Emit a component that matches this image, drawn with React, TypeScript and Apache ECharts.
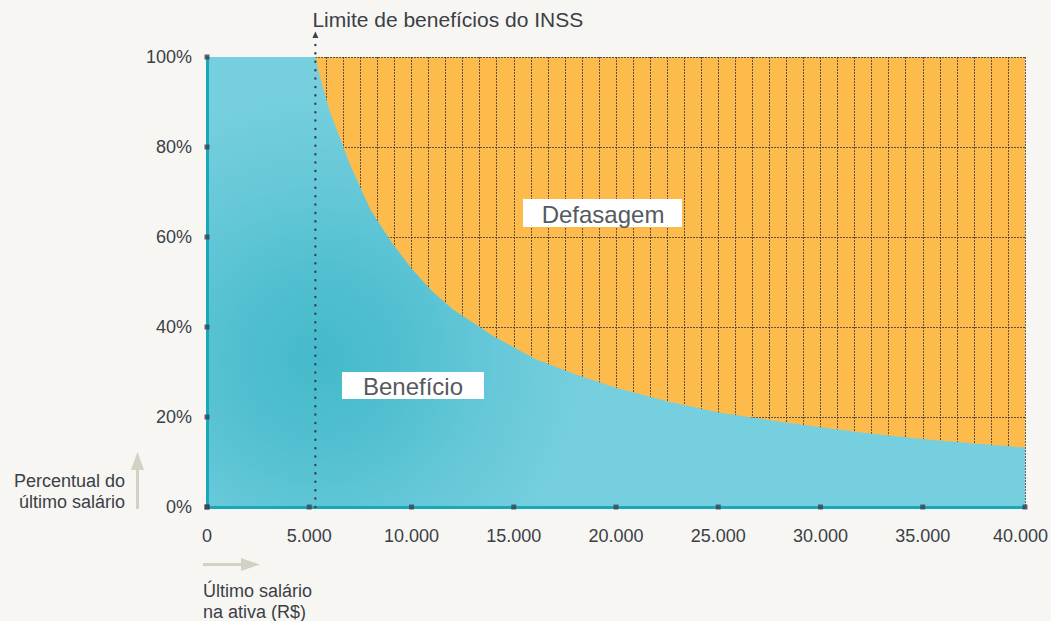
import React, { useEffect, useRef } from 'react';
import * as echarts from 'echarts';

// Data
const salaries = [0, 5300, 5500, 6000, 6500, 7000, 7500, 8000, 9000, 10000, 11000, 12000, 13000, 14000, 16000, 18000, 20000, 22500, 25000, 27500, 30000, 32500, 35000, 37500, 40000];
const benefitPct = [100, 100, 96, 88, 82, 76, 71, 66, 59, 53, 48, 44, 41, 38, 33, 29.5, 26.5, 23.5, 21, 19.3, 17.7, 16.3, 15.1, 14.1, 13.2];
const inssLimit = 5300;
const xTicks = [0, 5000, 10000, 15000, 20000, 25000, 30000, 35000, 40000];
const yTicks = [0, 20, 40, 60, 80, 100];

const FONT = '"Liberation Sans", Arial, Helvetica, sans-serif';
const TEXT = '#3b4046';
const GRIDLINE = { color: 'rgba(55,55,65,0.8)', width: 1, type: [2, 1] as any };

const fmtThousands = (v: number) => String(v).replace(/\B(?=(\d{3})+(?!\d))/g, '.');
const xMax = xTicks[xTicks.length - 1];

export default function App() {
  const ref = useRef<HTMLDivElement>(null);
  useEffect(() => {
    document.body.style.margin = '0';
    document.body.style.background = '#F7F6F3';
    const chart = echarts.init(ref.current!, undefined, { renderer: 'svg' });
    const option: any = {
      animation: false,
      backgroundColor: '#F7F6F3',
      textStyle: { fontFamily: FONT },
      grid: {
        left: 207, right: 26, top: 57, bottom: 114,
        outerBoundsMode: 'none', containLabel: false,
        show: true, backgroundColor: '#FDBB4C', borderWidth: 0,
      },
      xAxis: [
        {
          type: 'value', min: 0, max: xMax, interval: 5000,
          axisLine: { show: false }, axisTick: { show: false }, axisLabel: { show: false },
          splitLine: { show: true, lineStyle: GRIDLINE },
          minorTick: { show: false, splitNumber: 6 },
          minorSplitLine: { show: true, lineStyle: GRIDLINE },
        },
        {
          type: 'value', min: 0, max: xMax, interval: 5000, position: 'bottom', z: 10,
          axisLine: { show: true, onZero: false, lineStyle: { color: '#17A8B9', width: 3 } },
          axisTick: { show: false },
          splitLine: { show: false },
          axisLabel: {
            show: true, margin: 20, fontSize: 18, color: TEXT, fontFamily: FONT,
            formatter: (v: number) => (v === xMax ? `{last|${fmtThousands(v)}}` : fmtThousands(v)),
            rich: {
              last: { fontSize: 18, color: TEXT, fontFamily: FONT, padding: [0, 9, 0, 0] },
            },
          },
        },
      ],
      yAxis: [
        {
          type: 'value', min: 0, max: 100, interval: 20,
          axisLine: { show: false }, axisTick: { show: false }, axisLabel: { show: false },
          splitLine: { show: true, lineStyle: GRIDLINE },
        },
        {
          type: 'value', min: 0, max: 100, interval: 20, position: 'left', z: 10,
          axisLine: { show: true, onZero: false, lineStyle: { color: '#17A8B9', width: 3 } },
          axisTick: { show: false },
          splitLine: { show: false },
          axisLabel: {
            show: true, margin: 15, fontSize: 18, color: TEXT, fontFamily: FONT,
            formatter: (v: number) => `${v}%`,
          },
        },
      ],
      series: [
        {
          id: 'benefit',
          type: 'line', xAxisIndex: 0, yAxisIndex: 0, z: 2,
          data: salaries.map((s, i) => [s, benefitPct[i]]),
          showSymbol: false, symbol: 'none',
          lineStyle: { width: 0 },
          areaStyle: { opacity: 1, color: '#6ECADB' },
          silent: true,
        },
        {
          type: 'scatter', xAxisIndex: 0, yAxisIndex: 0, z: 20, clip: false,
          symbol: 'rect', symbolSize: 5,
          itemStyle: { color: '#3B4250' },
          data: xTicks.map((v) => [v, 0]),
          silent: true,
        },
        {
          type: 'scatter', xAxisIndex: 0, yAxisIndex: 0, z: 20, clip: false,
          symbol: 'rect', symbolSize: 5,
          itemStyle: { color: '#3B4250' },
          data: yTicks.map((v) => [0, v]),
          silent: true,
        },
      ],
    };
    chart.setOption(option);

    const [lx, y0] = chart.convertToPixel({ xAxisIndex: 0, yAxisIndex: 0 }, [inssLimit, 0]) as number[];
    const [, y100] = chart.convertToPixel({ xAxisIndex: 0, yAxisIndex: 0 }, [inssLimit, 100]) as number[];
    const [gx, gy] = chart.convertToPixel({ xAxisIndex: 0, yAxisIndex: 0 }, [5500, 33]) as number[];
    const arrowC = '#D5D0C5';
    chart.setOption({
      series: [
        {
          id: 'benefit',
          areaStyle: {
            opacity: 1,
            color: {
              type: 'radial', global: true, x: gx, y: gy, r: 270,
              colorStops: [
                { offset: 0, color: '#45BACA' },
                { offset: 0.3, color: '#50BFCF' },
                { offset: 0.65, color: '#66C8D8' },
                { offset: 1, color: '#76CFDF' },
              ],
            },
          },
        },
      ],
      graphic: [
        {
          type: 'line', z: 50, silent: true,
          shape: { x1: lx, y1: y0, x2: lx, y2: y100 - 17 },
          style: { stroke: '#3B4250', lineWidth: 2.4, lineDash: [0.1, 8.3], lineCap: 'round' },
        },
        {
          type: 'polygon', z: 50, silent: true,
          shape: { points: [[lx - 3, y100 - 19], [lx + 3, y100 - 19], [lx, y100 - 25.5]] },
          style: { fill: '#3B4250' },
        },
        {
          type: 'text', z: 50, silent: true, x: lx - 3, y: y100 - 38,
          style: { text: 'Limite de benefícios do INSS', font: `21px ${FONT}`, fill: TEXT, textAlign: 'left', textVerticalAlign: 'middle' },
        },
        // Benefício box
        { type: 'rect', z: 50, silent: true, shape: { x: 342, y: 372, width: 142, height: 27 }, style: { fill: '#FFFFFF' } },
        {
          type: 'text', z: 51, silent: true, x: 413, y: 386,
          style: { text: 'Benefício', font: `24px ${FONT}`, fill: '#555a60', textAlign: 'center', textVerticalAlign: 'middle' },
        },
        // Defasagem box
        { type: 'rect', z: 50, silent: true, shape: { x: 523, y: 199, width: 159, height: 28 }, style: { fill: '#FFFFFF' } },
        {
          type: 'text', z: 51, silent: true, x: 603, y: 214,
          style: { text: 'Defasagem', font: `24px ${FONT}`, fill: '#555a60', textAlign: 'center', textVerticalAlign: 'middle' },
        },
        // Y axis title and arrow
        {
          type: 'text', z: 50, silent: true, x: 125, y: 481,
          style: { text: 'Percentual do', font: `18px ${FONT}`, fill: TEXT, textAlign: 'right', textVerticalAlign: 'middle' },
        },
        {
          type: 'text', z: 50, silent: true, x: 125, y: 502,
          style: { text: 'último salário', font: `18px ${FONT}`, fill: TEXT, textAlign: 'right', textVerticalAlign: 'middle' },
        },
        {
          type: 'line', z: 50, silent: true,
          shape: { x1: 137.5, y1: 509, x2: 137.5, y2: 466 },
          style: { stroke: arrowC, lineWidth: 3 },
        },
        {
          type: 'polygon', z: 50, silent: true,
          shape: { points: [[131, 470], [144, 470], [137.5, 452]] },
          style: { fill: arrowC },
        },
        // X axis title and arrow
        {
          type: 'line', z: 50, silent: true,
          shape: { x1: 203, y1: 564.5, x2: 244, y2: 564.5 },
          style: { stroke: arrowC, lineWidth: 3 },
        },
        {
          type: 'polygon', z: 50, silent: true,
          shape: { points: [[241, 558], [241, 571], [260, 564.5]] },
          style: { fill: arrowC },
        },
        {
          type: 'text', z: 50, silent: true, x: 203, y: 591,
          style: { text: 'Último salário', font: `18px ${FONT}`, fill: TEXT, textAlign: 'left', textVerticalAlign: 'middle' },
        },
        {
          type: 'text', z: 50, silent: true, x: 203, y: 612,
          style: { text: 'na ativa (R$)', font: `18px ${FONT}`, fill: TEXT, textAlign: 'left', textVerticalAlign: 'middle' },
        },
      ],
    });
    return () => chart.dispose();
  }, []);
  return <div ref={ref} style={{ width: 1051, height: 621, position: 'absolute', left: 0, top: 0 }} />;
}
